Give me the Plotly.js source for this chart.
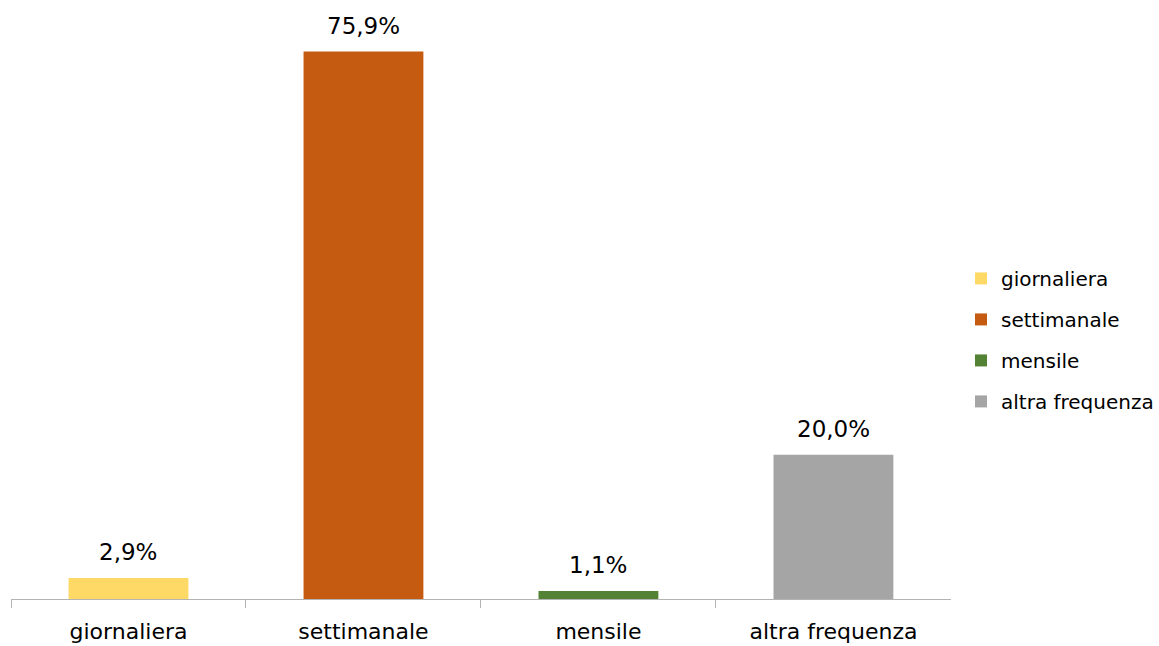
<!DOCTYPE html>
<html><head><meta charset="utf-8">
<script src="https://cdn.plot.ly/plotly-3.0.1.min.js"></script>
<style>html,body{margin:0;padding:0;background:#fff}#c{width:1159px;height:646px}</style>
</head><body><div id="c"></div>
<script>
const categories = ["giornaliera", "settimanale", "mensile", "altra frequenza"];
const values = [2.9, 75.9, 1.1, 20.0];
const colors = ["#FFD966", "#C55A11", "#548235", "#A5A5A5"];

const traces = categories.map((c, i) => ({
  type: 'bar',
  name: c,
  legendgroup: 'g' + i,
  x: [c],
  y: [values[i]],
  width: 0.51,
  marker: {color: colors[i]},
  hoverinfo: 'skip'
}));

const annotations = categories.map((c, i) => ({
  x: c, y: values[i], xref: 'x', yref: 'y',
  text: values[i].toFixed(1).replace('.', ',') + '%',
  showarrow: false, yanchor: 'bottom', yshift: 11,
  font: {family: 'DejaVu Sans', size: 23, color: '#000'}
}));

const W = 1159 - 11;
const layout = {
  width: 1159, height: 646,
  margin: {l: 11, r: 0, t: 21.5, b: 46.5},
  paper_bgcolor: '#fff', plot_bgcolor: '#fff',
  barmode: 'overlay',
  showlegend: true,
  font: {family: 'DejaVu Sans', color: '#000'},
  annotations: annotations,
  xaxis: {
    domain: [0, 949 / W],
    type: 'category', categoryarray: categories,
    showline: true, linecolor: '#b3b3b3', linewidth: 1,
    ticks: 'outside', tickson: 'boundaries', ticklen: 8, tickcolor: '#b3b3b3',
    tickfont: {family: 'DejaVu Sans', size: 22, color: '#000'},
    ticklabelstandoff: 13,
    showgrid: false, zeroline: false
  },
  yaxis: {range: [0, 80], visible: false, showgrid: false, zeroline: false},
  legend: {
    x: (970.5 - 11) / W, xanchor: 'left', y: 0.449, yanchor: 'middle',
    font: {family: 'DejaVu Sans', size: 20, color: '#000'},
    itemwidth: 30, tracegroupgap: 12
  }
};
Plotly.newPlot('c', traces, layout, {displayModeBar: false, staticPlot: true});
</script></body></html>
